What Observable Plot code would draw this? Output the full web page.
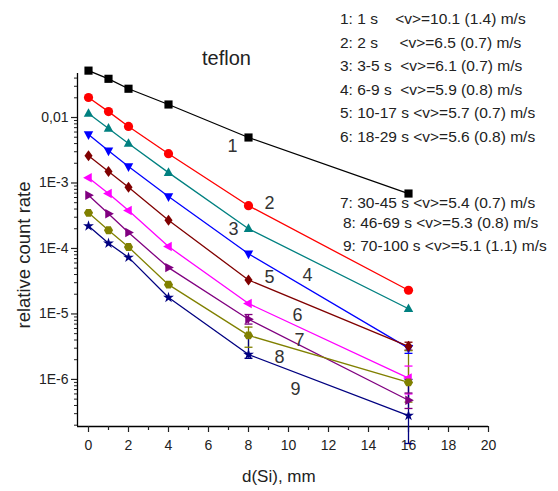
<!DOCTYPE html>
<html><head><meta charset="utf-8">
<script src="https://cdn.jsdelivr.net/npm/d3@7"></script>
<script src="https://cdn.jsdelivr.net/npm/@observablehq/plot@0.6"></script>
<style>
html,body{margin:0;padding:0;background:#fff;}
#wrap{position:relative;width:558px;height:491px;font-family:"Liberation Sans",Arial,sans-serif;color:#222;}
.note{position:absolute;white-space:pre;line-height:1;}
</style></head><body><div id="wrap"></div>
<script>
// ---- data ----
const distances = [0, 1, 2, 4, 8, 16];
const seriesNames = ["1","2","3","4","5","6","7","8","9"];
const s1 = [0.052, 0.039, 0.0275, 0.0158, 0.00495, 0.00069];
const s2 = [0.0202, 0.0123, 0.0073, 0.0028, 4.5e-4, 2.3e-5];
const s3 = [0.0115, 0.0068, 0.0040, 0.00144, 2.0e-4, 1.2e-5];
const s4 = [0.0055, 0.0031, 0.00178, 6.2e-4, 8.3e-5, 3.0e-6];
const s5 = [0.0026, 0.0015, 8.6e-4, 2.7e-4, 3.3e-5, 3.2e-6];
const s6 = [0.0012, 6.9e-4, 3.8e-4, 1.07e-4, 1.44e-5, 1.05e-6];
const s7 = [6.5e-4, 3.4e-4, 1.75e-4, 5.1e-5, 8.3e-6, 4.8e-7];
const s8 = [3.5e-4, 1.9e-4, 1.05e-4, 2.8e-5, 4.7e-6, 9.0e-7];
const s9 = [2.2e-4, 1.2e-4, 7.3e-5, 1.78e-5, 2.4e-6, 2.8e-7];
const seriesColors = ["#000000","#ff0000","#008080","#0000ff","#800000","#ff00ff","#800080","#808000","#000080"];

// error bars
const errSeries = ["7","8","9","4","5","6","7","8","9"];
const errX      = [8, 8, 8, 16, 16, 16, 16, 16, 16];
const errLow    = [7.0e-6, 3.1e-6, 2.1e-6, 2.5e-6, 2.8e-6, 6.0e-7, 3.6e-7, 4.5e-7, 1.05e-7];
const errHigh   = [9.8e-6, 6.3e-6, 4.6e-6, 3.3e-6, 3.7e-6, 1.6e-6, 6.2e-7, 2.75e-6, 1.0e-6];

// curve number annotations
const curveLabelX = [7.2, 9.05, 7.25, 10.95, 9.05, 10.45, 10.55, 9.55, 10.35];
const curveLabelY = [3.7e-3, 4.9e-4, 2.0e-4, 3.9e-5, 3.6e-5, 9.5e-6, 4.0e-6, 2.2e-6, 7.2e-7];

// ticks
const xMajorTicks = [0,2,4,6,8,10,12,14,16,18,20];
const xMinorTicks = [1,3,5,7,9,11,13,15,17,19];
const yMajorTicks = [1e-6, 1e-5, 1e-4, 1e-3, 1e-2];
const yTickLabels = ["1E-6","1E-5","1E-4","1E-3","0,01"];
const xDomain = [-0.55, 20];
const yDomain = [1.91e-7, 0.047];

const legendTop = [
  "1: 1 s    <v>=10.1 (1.4) m/s",
  "2: 2 s     <v>=6.5 (0.7) m/s",
  "3: 3-5 s  <v>=6.1 (0.7) m/s",
  "4: 6-9 s  <v>=5.9 (0.8) m/s",
  "5: 10-17 s <v>=5.7 (0.7) m/s",
  "6: 18-29 s <v>=5.6 (0.8) m/s"
];
const legendBottom = [
  "7: 30-45 s <v>=5.4 (0.7) m/s",
  "8: 46-69 s <v>=5.3 (0.8) m/s",
  "9: 70-100 s <v>=5.1 (1.1) m/s"
];

// ---- build tables ----
const seriesValues = [s1,s2,s3,s4,s5,s6,s7,s8,s9];
const rows = seriesValues.flatMap((vals, i) => distances.map((d, j) => ({series: seriesNames[i], d, v: vals[j]})));
const errRows = errSeries.map((s, i) => ({series: s, d: errX[i], lo: errLow[i], hi: errHigh[i]}));
const capRows = errRows.flatMap(r => [{...r, v: r.lo}, {...r, v: r.hi}]);
const labelRows = seriesNames.map((s, i) => ({text: s, d: curveLabelX[i], v: curveLabelY[i]}));

// y minor ticks
const yMinorTicks = [];
for (let e = -7; e <= -2; e++) for (let k = 2; k <= 9; k++) {
  const t = k * Math.pow(10, e);
  if (t >= yDomain[0] && t <= yDomain[1]) yMinorTicks.push(t);
}

// symbols
function poly(pts) {
  return {draw(ctx, size) {
    const s = Math.sqrt(size);
    pts.forEach(([x, y], i) => i ? ctx.lineTo(x * s, y * s) : ctx.moveTo(x * s, y * s));
    ctx.closePath();
  }};
}
const hex = d3.range(6).map(i => [0.56 * Math.cos(Math.PI / 3 * i), 0.56 * Math.sin(Math.PI / 3 * i)]);
const smallStar = {draw(ctx, size) { d3.symbolStar.draw(ctx, size * 0.55); }};
const seriesSymbols = [
  d3.symbolSquare,
  d3.symbolCircle,
  poly([[0,-0.66],[0.58,0.4],[-0.58,0.4]]),
  poly([[0,0.66],[0.58,-0.4],[-0.58,-0.4]]),
  poly([[0,-0.68],[0.5,0],[0,0.68],[-0.5,0]]),
  poly([[-0.66,0],[0.4,-0.58],[0.4,0.58]]),
  poly([[0.66,0],[-0.4,-0.58],[-0.4,0.58]]),
  poly(hex),
  smallStar
];

const capSym = {draw(ctx, size) { const s = Math.sqrt(size) * 0.5; ctx.moveTo(-s, 0); ctx.lineTo(s, 0); }};

const plot = Plot.plot({
  width: 558,
  height: 491,
  marginLeft: 77,
  marginRight: 70,
  marginTop: 73,
  marginBottom: 65,
  style: {fontFamily: "'Liberation Sans', Arial, sans-serif", color: "#222", background: "transparent", overflow: "visible"},
  x: {domain: xDomain},
  y: {type: "log", domain: yDomain},
  color: {domain: seriesNames, range: seriesColors},
  symbol: {domain: seriesNames, range: seriesSymbols},
  marks: [
    Plot.ruleX([xDomain[0]], {stroke: "#000", strokeWidth: 1.3}),
    Plot.ruleY([yDomain[0]], {stroke: "#000", strokeWidth: 1.3}),
    Plot.axisX({ticks: xMajorTicks, tickSize: 6, tickPadding: 8, fontSize: 14, label: null, strokeWidth: 1.2}),
    Plot.axisX({ticks: xMinorTicks, tickSize: 4, tickFormat: () => "", label: null, strokeWidth: 1.2}),
    Plot.axisY({ticks: yMajorTicks, tickSize: 6, tickPadding: 3, fontSize: 14, label: null, strokeWidth: 1.2,
      tickFormat: d => yTickLabels[yMajorTicks.indexOf(d)]}),
    Plot.axisY({ticks: yMinorTicks, tickSize: 3, tickFormat: () => "", label: null, strokeWidth: 1}),
    Plot.ruleX(errRows, {x: "d", y1: "lo", y2: "hi", stroke: "series", strokeWidth: 1.3, clip: false}),
    Plot.dot(capRows, {x: "d", y: "v", r: 4.5, symbol: () => capSym, stroke: "series", strokeWidth: 1.3, fill: "none"}),
    ...seriesNames.map(name => Plot.line(rows.filter(r => r.series === name), {x: "d", y: "v", stroke: "series", strokeWidth: 1.3})),
    Plot.dot(rows, {x: "d", y: "v", symbol: "series", fill: "series", stroke: "none", r: 4.6}),
    Plot.text(labelRows, {x: "d", y: "v", text: "text", fontSize: 18, fill: "#333"})
  ]
});

const wrap = document.getElementById("wrap");
plot.style.position = "absolute";
plot.style.left = "0px";
plot.style.top = "0px";
wrap.appendChild(plot);

function note(text, left, top, size, extra) {
  const el = document.createElement("div");
  el.className = "note";
  el.textContent = text;
  el.style.left = left + "px";
  el.style.top = top + "px";
  el.style.fontSize = size + "px";
  if (extra) Object.assign(el.style, extra);
  wrap.appendChild(el);
  return el;
}
legendTop.forEach((t, i) => note(t, 340, 11 + i * 23.6, 15.5));
note(legendBottom[0], 340, 195, 15.5);
note(legendBottom[1], 343, 215, 15.5);
note(legendBottom[2], 343, 238, 15.5);
note("teflon", 202, 48, 20);
note("d(Si), mm", 242, 468, 17);
note("relative count rate", 24, 255, 18.5, {transform: "translate(-50%,-50%) rotate(-90deg)", transformOrigin: "50% 50%"});
</script></body></html>
